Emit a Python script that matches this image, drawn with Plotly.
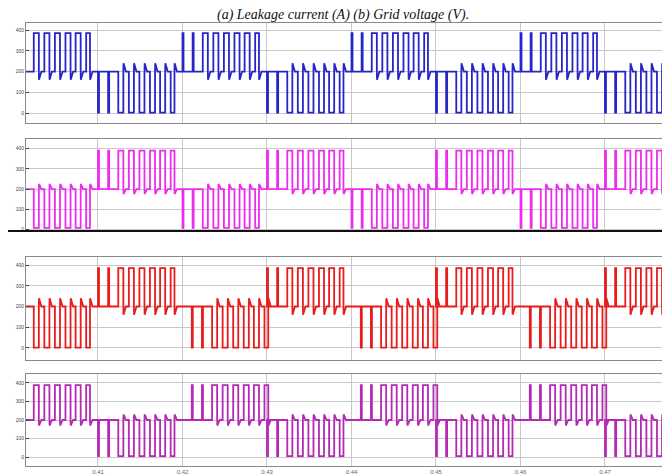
import plotly.graph_objects as go

# ---- data ----
# half-cycle window start times (s) for each panel: pulses going up (high) / down (low)
p1_high_starts = [0.40, 0.42, 0.44, 0.46]
p1_low_starts = [0.41, 0.43, 0.45, 0.47]
p2_high_starts = [0.41, 0.43, 0.45, 0.47]
p2_low_starts = [0.40, 0.42, 0.44, 0.46]
p3_high_starts = [0.41, 0.43, 0.45, 0.47]
p3_low_starts = [0.40, 0.4211, 0.4411, 0.4611]
p4_high_starts = [0.40, 0.4211, 0.4411, 0.4611]
p4_low_starts = [0.41, 0.43, 0.45, 0.47]

# pulse pattern inside one half-cycle (ms from window start) and pulse widths (ms)
pulse_offsets_ms = [0.0, 1.2, 2.4, 3.65, 4.9, 6.15, 7.35, 8.6]
pulse_widths_ms = [0.12, 0.12, 0.6, 0.6, 0.6, 0.6, 0.6, 0.45]

baseline = 200
high_levels = [385, 390, 385, 388]
low_levels = [2, 8, 2, 5]
dip_sizes = [40, 25, 40, 30]      # overshoot after pulses (V)

x_ticks = [0.41, 0.42, 0.43, 0.44, 0.45, 0.46, 0.47]
x_tick_labels = ["0.41", "0.42", "0.43", "0.44", "0.45", "0.46", "0.47"]
y_ticks = [0, 100, 200, 300, 400]
y_tick_labels = ["0", "100", "200", "300", "400"]

colors = ["#2626c8", "#ee2cee", "#e81c1c", "#b52ab5"]
y_ranges = [[-48, 434], [-8, 448], [-58, 439], [-48, 448]]
y_domains = [[0.7574, 0.9684], [0.5295, 0.7236], [0.2574, 0.4747], [0.0338, 0.2278]]
x_range = [0.40148, 0.47864]

panels = [
    (p1_high_starts, p1_low_starts),
    (p2_high_starts, p2_low_starts),
    (p3_high_starts, p3_low_starts),
    (p4_high_starts, p4_low_starts),
]


def build_wave(high_starts, low_starts, hi, lo, dip):
    windows = [(t, 1) for t in high_starts] + [(t, -1) for t in low_starts]
    windows.sort()
    xs, ys = [x_range[0]], [baseline]
    for t0, s in windows:
        lvl = hi if s > 0 else lo
        for i, (off, w) in enumerate(zip(pulse_offsets_ms, pulse_widths_ms)):
            ts = t0 + off / 1000.0
            te = ts + w / 1000.0
            xs += [ts, ts, te, te]
            ys += [baseline, lvl, lvl, baseline]
            if i >= 2:
                xs += [te + 0.00002, te + 0.0003]
                ys += [baseline - s * dip, baseline]
    xs.append(x_range[1])
    ys.append(baseline)
    return xs, ys


fig = go.Figure()
for k, (hs, ls) in enumerate(panels):
    xs, ys = build_wave(hs, ls, high_levels[k], low_levels[k], dip_sizes[k])
    sfx = "" if k == 0 else str(k + 1)
    fig.add_trace(go.Scatter(x=xs, y=ys, mode="lines",
                             line=dict(color=colors[k], width=1.8),
                             xaxis="x" + sfx, yaxis="y" + sfx,
                             showlegend=False, hoverinfo="skip"))

layout = dict(
    width=670, height=474,
    margin=dict(l=0, r=0, t=0, b=0),
    paper_bgcolor="white", plot_bgcolor="white",
    showlegend=False,
)
for k in range(4):
    sfx = "" if k == 0 else str(k + 1)
    layout["xaxis" + sfx] = dict(
        domain=[0.02687, 1.0], range=x_range, anchor="y" + sfx,
        tickvals=x_ticks, ticktext=x_tick_labels,
        showticklabels=(k == 3),
        tickfont=dict(size=6, color="#666666", family="Liberation Sans"),
        showgrid=True, gridcolor="#c8c8c8", gridwidth=1,
        showline=True, linecolor="#8a8a8a", linewidth=1, mirror=True,
        ticks="", zeroline=False,
    )
    layout["yaxis" + sfx] = dict(
        domain=y_domains[k], range=y_ranges[k], anchor="x" + sfx,
        tickvals=y_ticks, ticktext=y_tick_labels,
        tickfont=dict(size=5, color="#444444", family="Liberation Sans"),
        showgrid=True, gridcolor="#c8c8c8", gridwidth=1,
        showline=True, linecolor="#8a8a8a", linewidth=1,
        ticks="inside", ticklen=3, tickcolor="#444444",
        zeroline=False,
    )
fig.update_layout(**layout)

# thick dark rule under the second panel
fig.add_shape(type="line", xref="paper", yref="paper",
              x0=0.0, x1=1.0, y0=y_domains[1][0], y1=y_domains[1][0],
              line=dict(color="#111111", width=2))

fig.add_annotation(
    text="(a) Leakage current (A) (b) Grid voltage (V).",
    xref="paper", yref="paper", x=0.5, y=1.0 + 2 / 474,
    xanchor="center", yanchor="top", showarrow=False, borderpad=0,
    font=dict(family="Liberation Serif", size=14, color="#111111", style="italic"),
)

fig.write_html("out.html")
